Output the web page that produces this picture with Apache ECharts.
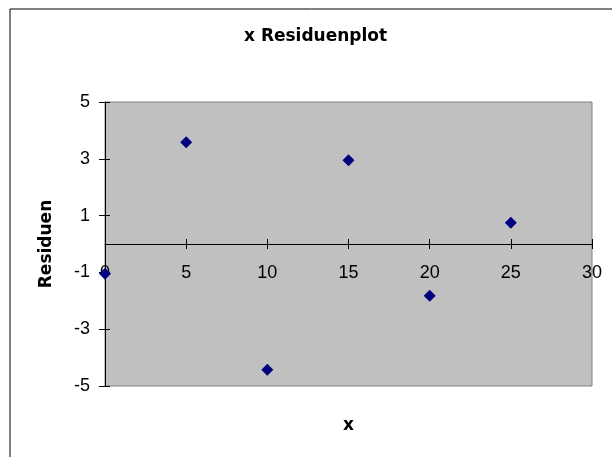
<!DOCTYPE html>
<html>
<head>
<meta charset="utf-8">
<script src="https://cdn.jsdelivr.net/npm/echarts@6/dist/echarts.min.js"></script>
<style>
  html, body { margin: 0; padding: 0; background: #fff; }
  #chart { width: 612px; height: 457px; }
</style>
</head>
<body>
<div id="chart"></div>
<script>
// Residuals of the regression against x
const xValues = [0, 5, 10, 15, 20, 25];
const residuals = [-1.05, 3.58, -4.43, 2.95, -1.82, 0.75];
const xTicks = [0, 5, 10, 15, 20, 25, 30];
const yTicks = [-5, -3, -1, 1, 3, 5];

const points = xValues.map((x, i) => [x, residuals[i]]);
const font = 'Liberation Sans, Arial, sans-serif';
const boldFont = 'DejaVu Sans, sans-serif';

// Plot box
const gridTop = 102, gridBottom = 71, chartHeight = 457;
const gridHeight = chartHeight - gridTop - gridBottom;
const yMin = yTicks[0], yMax = yTicks[yTicks.length - 1];
// The x axis crosses at y = 0: lift it from the bottom edge of the plot box
const zeroOffset = -gridHeight * (0 - yMin) / (yMax - yMin);

const chart = echarts.init(document.getElementById('chart'));
chart.setOption({
  animation: false,
  backgroundColor: '#ffffff',
  title: {
    text: 'x Residuenplot',
    left: 244,
    top: 28,
    padding: 0,
    textStyle: { fontFamily: boldFont, fontSize: 17, fontWeight: 'bold', color: '#000' }
  },
  graphic: [{
    type: 'rect',
    shape: { x: 10, y: 9, width: 700, height: 500 },
    style: { fill: 'none', stroke: '#000', lineWidth: 1 },
    silent: true,
    z: -10
  }],
  grid: {
    left: 105, top: gridTop, right: 20, bottom: gridBottom,
    containLabel: false,
    outerBoundsMode: 'none',
    show: true,
    backgroundColor: '#c0c0c0',
    borderColor: '#808080',
    borderWidth: 1
  },
  xAxis: [{
    type: 'value',
    position: 'bottom',
    offset: zeroOffset,
    min: xTicks[0], max: xTicks[xTicks.length - 1], interval: 5,
    axisLine: { onZero: false, lineStyle: { color: '#000', width: 1 } },
    axisTick: { show: true, length: 5, lineStyle: { color: '#000' } },
    axisLabel: { fontFamily: font, fontSize: 18, color: '#000', margin: 20 },
    splitLine: { show: false },
    name: 'x',
    nameLocation: 'middle',
    nameGap: 173,
    nameTextStyle: { fontFamily: boldFont, fontSize: 17, fontWeight: 'bold', color: '#000' }
  }, {
    type: 'value',
    position: 'bottom',
    offset: zeroOffset,
    min: xTicks[0], max: xTicks[xTicks.length - 1], interval: 5,
    axisLine: { show: false, onZero: false },
    axisTick: { show: true, inside: true, length: 5, lineStyle: { color: '#000' } },
    axisLabel: { show: false },
    splitLine: { show: false }
  }],
  yAxis: [{
    type: 'value',
    min: yMin, max: yMax, interval: 2,
    axisLine: { show: true, onZero: false, lineStyle: { color: '#000', width: 1 } },
    axisTick: { show: true, length: 6, lineStyle: { color: '#000' } },
    axisLabel: { fontFamily: font, fontSize: 18, color: '#000', margin: 15 },
    splitLine: { show: false },
    name: 'Residuen',
    nameLocation: 'middle',
    nameGap: 50,
    nameRotate: 90,
    nameTextStyle: { fontFamily: boldFont, fontSize: 17, fontWeight: 'bold', color: '#000' }
  }, {
    type: 'value',
    position: 'left',
    min: yMin, max: yMax, interval: 2,
    axisLine: { show: false, onZero: false },
    axisTick: { show: true, inside: true, length: 5, lineStyle: { color: '#000' } },
    axisLabel: { show: false },
    splitLine: { show: false }
  }],
  series: [{
    type: 'scatter',
    data: points,
    symbol: 'diamond',
    symbolSize: 12,
    itemStyle: { color: '#000080', opacity: 1 },
    z: 5
  }]
});
</script>
</body>
</html>
